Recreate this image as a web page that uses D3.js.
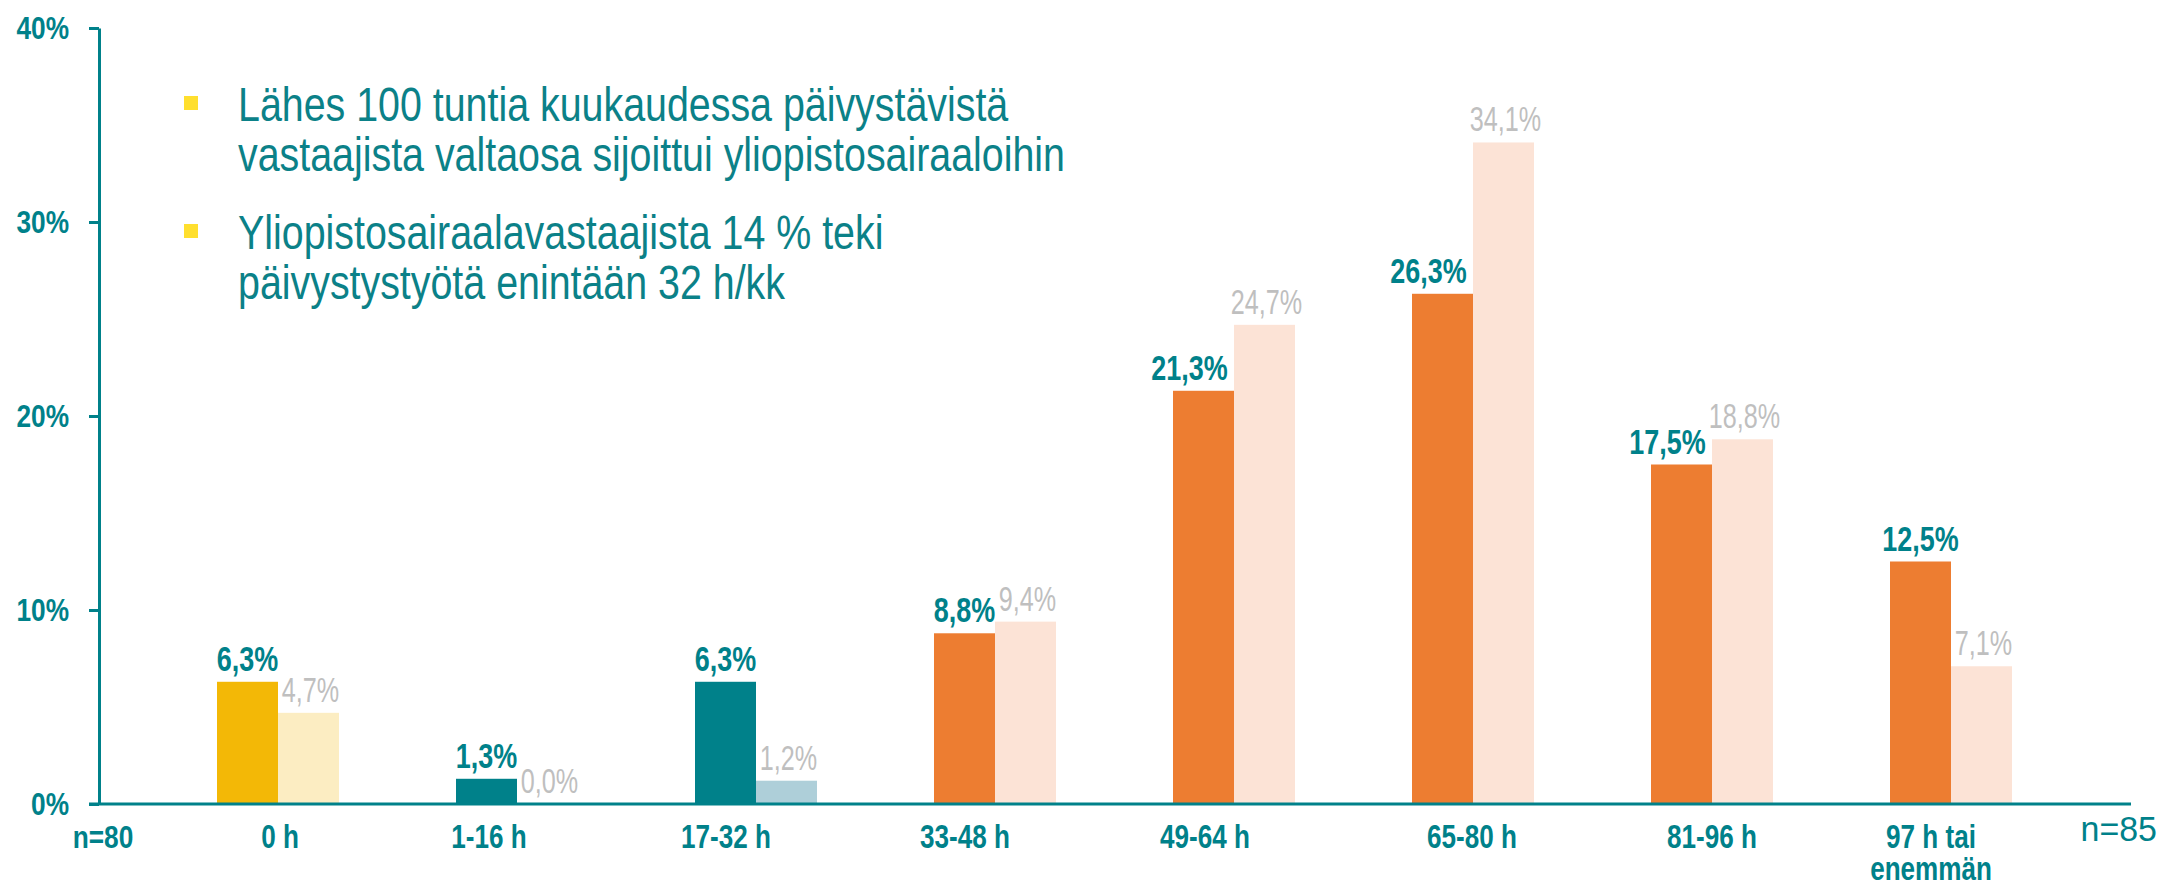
<!doctype html>
<html>
  <head>
    <meta charset="utf-8">
    <title>Päivystystunnit</title>
    <script src="https://cdn.jsdelivr.net/npm/d3@7"></script>
    <style>
      body { margin: 0; background: #fff; }
      svg text { font-family: "Liberation Sans", Arial, sans-serif; }
    </style>
  </head>
  <body>
    <script>
      // data
      const categories = ['0 h', '1-16 h', '17-32 h', '33-48 h', '49-64 h', '65-80 h', '81-96 h', '97 h tai|enemmän'];
      const seriesNames = ['n=80', 'n=85'];
      const valuesN80 = [6.3, 1.3, 6.3, 8.8, 21.3, 26.3, 17.5, 12.5];
      const valuesN85 = [4.7, 0.0, 1.2, 9.4, 24.7, 34.1, 18.8, 7.1];
      const yTicks = [0, 10, 20, 30, 40];
      const notes = [
        ['Lähes 100 tuntia kuukaudessa päivystävistä', 'vastaajista valtaosa sijoittui yliopistosairaaloihin'],
        ['Yliopistosairaalavastaajista 14 % teki', 'päivystystyötä enintään 32 h/kk']
      ];

      const W = 2159, H = 881;
      const teal = '#00818a';
      // colour group per category: yellow, teal, orange
      const groupOf = ['y', 't', 't', 'o', 'o', 'o', 'o', 'o'];
      const dark = { y: '#f3b806', t: '#00818a', o: '#ed7d31' };
      const light = { y: '#fcedc2', t: '#aecfd9', o: '#fce3d6' };
      // manual nudges, as placed by hand on the original slide
      const labelNudge = [2, -28, -30, -30, -29, -1, 0, -20];
      const valNudge = [0, 0, 0, 0, -14, -14, -14, 0];

      const svg = d3.select('body').append('svg')
          .attr('width', W)
          .attr('height', H);

      // fake "Arial Narrow" by squeezing glyphs horizontally
      function narrow(f) {
        return sel => sel.each(function() {
          const len = this.getComputedTextLength();
          if (len > 0) {
            d3.select(this)
              .attr('textLength', len * f)
              .attr('lengthAdjust', 'spacingAndGlyphs');
          }
        });
      }

      const y = d3.scaleLinear().domain([0, 40]).range([804, 28]);
      const x0 = d3.scaleBand().domain(categories).range([158.5, 2070.5]);
      const x1 = d3.scaleBand().domain(seriesNames)
          .range([x0.bandwidth() / 2 - 61, x0.bandwidth() / 2 + 61]);

      const rows = categories.map((c, i) => ({
        cat: c, i: i,
        vals: [
          { s: seriesNames[0], v: valuesN80[i], i: i },
          { s: seriesNames[1], v: valuesN85[i], i: i }
        ]
      }));

      // bars
      const g = svg.selectAll('g.cat')
        .data(rows)
        .enter().append('g')
          .attr('class', 'cat')
          .attr('transform', d => `translate(${x0(d.cat)},0)`);

      g.selectAll('rect')
        .data(d => d.vals)
        .enter().append('rect')
          .attr('x', d => x1(d.s))
          .attr('width', x1.bandwidth())
          .attr('y', d => y(d.v))
          .attr('height', d => y(0) - y(d.v))
          .attr('fill', d => d.s === seriesNames[0] ? dark[groupOf[d.i]] : light[groupOf[d.i]]);

      // value labels
      const fmt = v => d3.format('.1f')(v).replace('.', ',') + '%';
      g.selectAll('text.dval')
        .data(d => d.vals.filter(v => v.s === seriesNames[0]))
        .enter().append('text')
          .attr('class', 'dval')
          .attr('x', d => x1(d.s) + x1.bandwidth() / 2 + valNudge[d.i])
          .attr('y', d => y(d.v) - 11)
          .attr('text-anchor', 'middle')
          .attr('font-size', 35)
          .attr('font-weight', 'bold')
          .attr('fill', teal)
          .text(d => fmt(d.v))
          .call(narrow(0.77));
      g.selectAll('text.lval')
        .data(d => d.vals.filter(v => v.s === seriesNames[1]))
        .enter().append('text')
          .attr('class', 'lval')
          .attr('x', d => x1(d.s) + x1.bandwidth() / 2 + 2)
          .attr('y', d => y(d.v) - 11)
          .attr('text-anchor', 'middle')
          .attr('font-size', 35)
          .attr('fill', '#bfbfbf')
          .text(d => fmt(d.v))
          .call(narrow(0.72));

      // y axis
      const yAxis = d3.axisLeft(y)
          .tickValues(yTicks)
          .tickSize(10)
          .tickSizeOuter(0)
          .tickPadding(20)
          .tickFormat(d => d + '%');
      const ya = svg.append('g')
          .attr('transform', 'translate(99,0)')
          .call(yAxis);
      ya.select('.domain').attr('stroke', teal).attr('stroke-width', 3);
      ya.selectAll('.tick line').attr('stroke', teal).attr('stroke-width', 3);
      ya.selectAll('.tick text')
          .attr('fill', teal)
          .attr('font-size', 32)
          .attr('font-weight', 'bold')
          .attr('font-family', '"Liberation Sans", Arial, sans-serif')
          .call(narrow(0.82));

      // x baseline
      svg.append('line')
          .attr('x1', 89).attr('x2', 2131)
          .attr('y1', y(0)).attr('y2', y(0))
          .attr('stroke', teal)
          .attr('stroke-width', 3);

      // category labels (| marks a line break)
      categories.forEach((c, i) => {
        c.split('|').forEach((line, k) => {
          svg.append('text')
              .attr('x', x0(c) + x0.bandwidth() / 2 + labelNudge[i])
              .attr('y', 848 + k * 32)
              .attr('text-anchor', 'middle')
              .attr('font-size', 33)
              .attr('font-weight', 'bold')
              .attr('fill', teal)
              .text(line)
              .call(narrow(0.79));
        });
      });

      // sample sizes
      svg.append('text')
          .attr('x', 103).attr('y', 848)
          .attr('text-anchor', 'middle')
          .attr('font-size', 32).attr('font-weight', 'bold')
          .attr('fill', teal)
          .text(seriesNames[0])
          .call(narrow(0.82));
      svg.append('text')
          .attr('x', 2157).attr('y', 841)
          .attr('text-anchor', 'end')
          .attr('font-size', 35)
          .attr('fill', teal)
          .text(seriesNames[1])
          .call(narrow(0.97));

      // notes with bullets
      const noteY = [121, 249];
      notes.forEach((lines, k) => {
        svg.append('rect')
            .attr('x', 184).attr('y', noteY[k] - 25)
            .attr('width', 14).attr('height', 14)
            .attr('fill', '#ffdf2e');
        lines.forEach((l, j) => {
          svg.append('text')
              .attr('x', 238).attr('y', noteY[k] + j * 50)
              .attr('font-size', 48)
              .attr('fill', '#0b8188')
              .text(l)
              .call(narrow(0.82));
        });
      });
    </script>
  </body>
</html>
